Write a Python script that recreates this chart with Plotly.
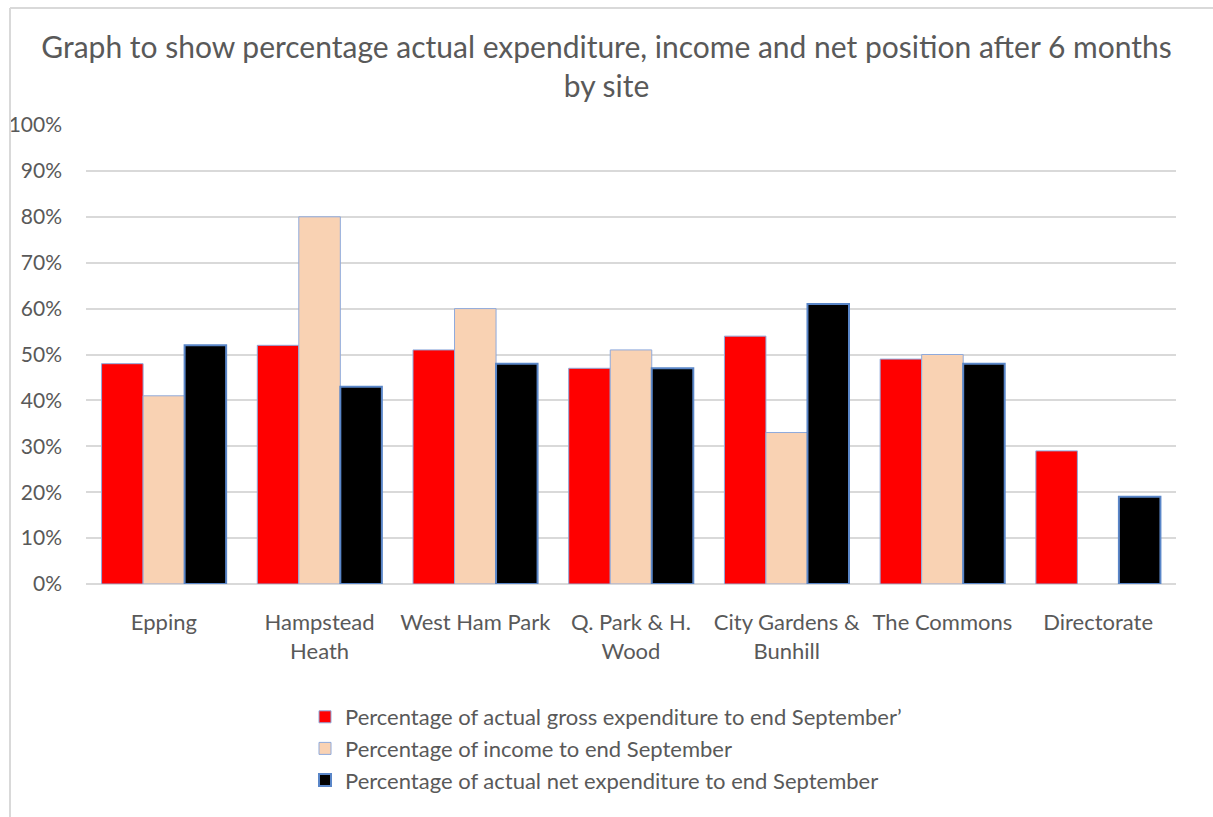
import plotly.graph_objects as go

categories = ["Epping", "Hampstead<br>Heath", "West Ham Park", "Q. Park & H.<br>Wood",
              "City Gardens &<br>Bunhill", "The Commons", "Directorate"]
gross_exp = [48, 52, 51, 47, 54, 49, 29]
income = [41, 80, 60, 51, 33, 50, None]
net_exp = [52, 43, 48, 47, 61, 48, 19]
series_names = ["Percentage of actual gross expenditure to end September\u2019",
                "Percentage of income to end September",
                "Percentage of actual net expenditure to end September"]

W, H = 1213, 817
L, R, T, B = 86, 37, 125, 233
FONT = "Lato"
GREY = "#595959"

fig = go.Figure()
fig.add_bar(x=categories, y=gross_exp, name=series_names[0],
            marker=dict(color="#FF0000", line=dict(color="#8FAADC", width=1)))
fig.add_bar(x=categories, y=income, name=series_names[1],
            marker=dict(color="#F9D2B3", line=dict(color="#8FAADC", width=1)))
fig.add_bar(x=categories, y=net_exp, name=series_names[2],
            marker=dict(color="#000000", line=dict(color="#5A86C8", width=2)))

pw, ph = W - L - R, H - T - B
def px(x):
    return (x - L) / pw
def py(y):
    return (H - B - y) / ph

fig.update_layout(
    width=W, height=H,
    margin=dict(l=L, r=R, t=T, b=B, autoexpand=False),
    paper_bgcolor="white", plot_bgcolor="white",
    barmode="group", bargap=0.2, bargroupgap=0,
    font=dict(family=FONT, color=GREY),
    title=dict(text="Graph to show percentage actual expenditure, income and net position after 6 months<br>by site",
               x=0.5, xanchor="center", xref="container",
               y=1 - 58 / H, yanchor="middle", yref="container",
               font=dict(family=FONT, size=30, color=GREY)),
    xaxis=dict(showgrid=False, showline=False, ticks="", tickfont=dict(size=22, color=GREY),
               ticklabelstandoff=23),
    yaxis=dict(range=[0, 100], dtick=10, ticksuffix="%", showgrid=True, gridcolor="#D9D9D9",
               gridwidth=1.5, zeroline=True, zerolinecolor="#D9D9D9", zerolinewidth=1.5,
               showline=False, ticks="", tickfont=dict(size=21, color=GREY),
               ticklabelstandoff=23, fixedrange=True),
    legend=dict(x=px(305), xanchor="left", y=py(696), yanchor="top",
                font=dict(size=22, color=GREY), tracegroupgap=0,
                bgcolor="rgba(0,0,0,0)"),
    showlegend=True,
    shapes=[
        dict(type="line", xref="paper", yref="paper", x0=px(10), x1=px(W + 5), y0=py(8), y1=py(8),
             line=dict(color="#D9D9D9", width=2)),
        dict(type="line", xref="paper", yref="paper", x0=px(10), x1=px(10), y0=py(8), y1=py(H + 5),
             line=dict(color="#D9D9D9", width=2)),
    ],
)

fig.write_html("out.html")
